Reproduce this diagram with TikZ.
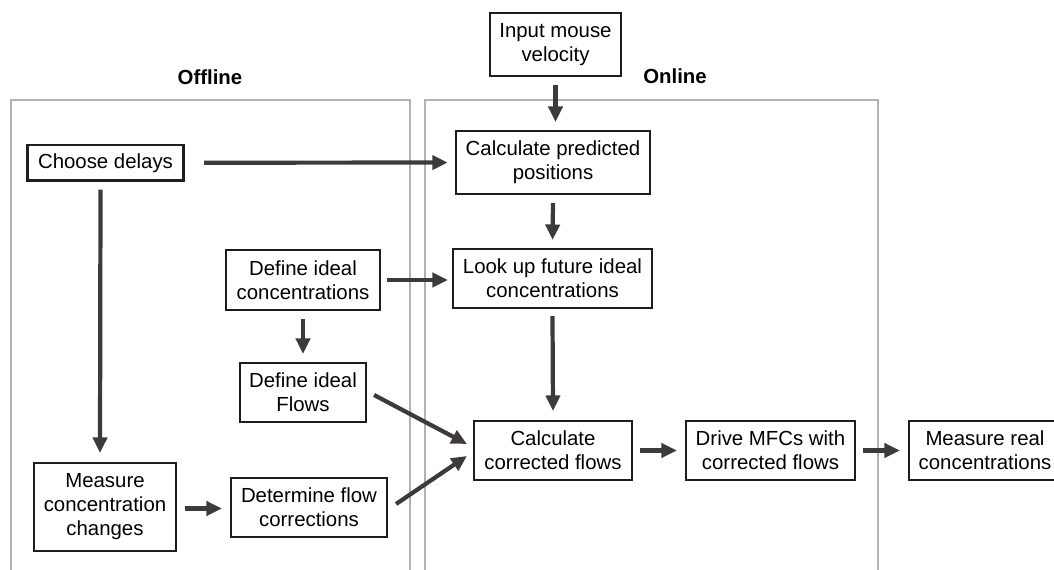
\documentclass[tikz,border=0pt]{standalone}
\usepackage{fontspec}
\setmainfont{Liberation Sans}
\usetikzlibrary{arrows.meta,calc}
\definecolor{panelgray}{RGB}{178,178,178}
\definecolor{arrowgray}{RGB}{62,58,58}
\definecolor{boxblack}{RGB}{30,30,30}
\tikzset{
  stepbox/.style={draw=boxblack, line width=1.5pt, align=center, inner sep=0pt, font=\fontsize{14.5}{17}\selectfont},
  flow/.style={draw=arrowgray, line width=3pt, -{Triangle[length=11pt,width=10pt]}},
  panel/.style={draw=panelgray, line width=1.4pt},
  paneltitle/.style={font=\fontsize{14.5}{17}\selectfont\bfseries}
}
\begin{document}
\begin{tikzpicture}[x=0.025cm, y=-0.025cm]
\useasboundingbox (0,0) rectangle (1054,570);

% Panels
\draw[panel] (11,580) -- (11,100) -- (410,100) -- (410,580);
\draw[panel] (425,580) -- (425,100) -- (878,100) -- (878,580);
\node[paneltitle] (offline) at (210,77) {Offline};
\node[paneltitle] (online) at (675,76) {Online};

% Offline steps
\node[stepbox, minimum width=3.9cm, minimum height=0.89cm] (delays) at (105.5,162.75) {Choose delays};
\node[stepbox, minimum width=3.85cm, minimum height=1.5cm] (defconc) at (303,280) {Define ideal\\concentrations};
\node[stepbox, minimum width=3.15cm, minimum height=1.475cm] (defflows) at (303,392.5) {Define ideal\\Flows};
\node[stepbox, minimum width=3.55cm, minimum height=2.2cm] (measure) at (105,507) {Measure\\concentration\\changes};
\node[stepbox, minimum width=3.9cm, minimum height=1.475cm] (determine) at (309,507.5) {Determine flow\\corrections};

% Online steps
\node[stepbox, minimum width=3.275cm, minimum height=1.575cm] (input) at (555.5,44.5) {Input mouse\\velocity};
\node[stepbox, minimum width=4.85cm, minimum height=1.575cm] (pred) at (553,162.5) {Calculate predicted\\positions};
\node[stepbox, minimum width=4.975cm, minimum height=1.475cm] (lookup) at (552.5,278.5) {Look up future ideal\\concentrations};
\node[stepbox, minimum width=3.95cm, minimum height=1.475cm] (calc) at (553,450.5) {Calculate\\corrected flows};
\node[stepbox, minimum width=4.225cm, minimum height=1.475cm] (drive) at (770.5,450.5) {Drive MFCs with\\corrected flows};
\node[stepbox, minimum width=3.8cm, minimum height=1.475cm] (real) at (985,450.5) {Measure real\\concentrations};

% Arrows
\draw[flow] ($(input.south)+(0,8)$) -- ($(input.south |- pred.north)+(0,-8)$);
\draw[flow, shorten <=0.49cm, shorten >=0.18cm] (delays) -- (pred);
\draw[flow] ($(pred.south)+(0,8)$) -- ($(lookup.north)+(0,-8)$);
\draw[flow] ($(defconc.east)+(6,0)$) -- ($(defconc.east -| lookup.west)+(-4,0)$);
\draw[flow] ($(defconc.south)+(0,8)$) -- ($(defflows.north)+(0,-8)$);
\draw[flow] ($(lookup.south)+(0,7)$) -- ($(calc.north)+(0,-9)$);
\draw[flow] ($(defflows.east)+(7,2.5)$) -- ($(calc.west)+(-6,-6.5)$);
\draw[flow] ($(determine.east)+(8,-3.5)$) -- ($(calc.west)+(-6,5.5)$);
\draw[flow] ($(delays.south)+(-5,8)$) -- ($(measure.north)+(-5,-9)$);
\draw[flow] ($(measure.east)+(8,1.5)$) -- ($(determine.west)+(-8,1)$);
\draw[flow] ($(calc.east)+(7,0)$) -- ($(drive.west)+(-8,0)$);
\draw[flow] ($(drive.east)+(7,0)$) -- ($(real.west)+(-8,0)$);

\end{tikzpicture}
\end{document}
